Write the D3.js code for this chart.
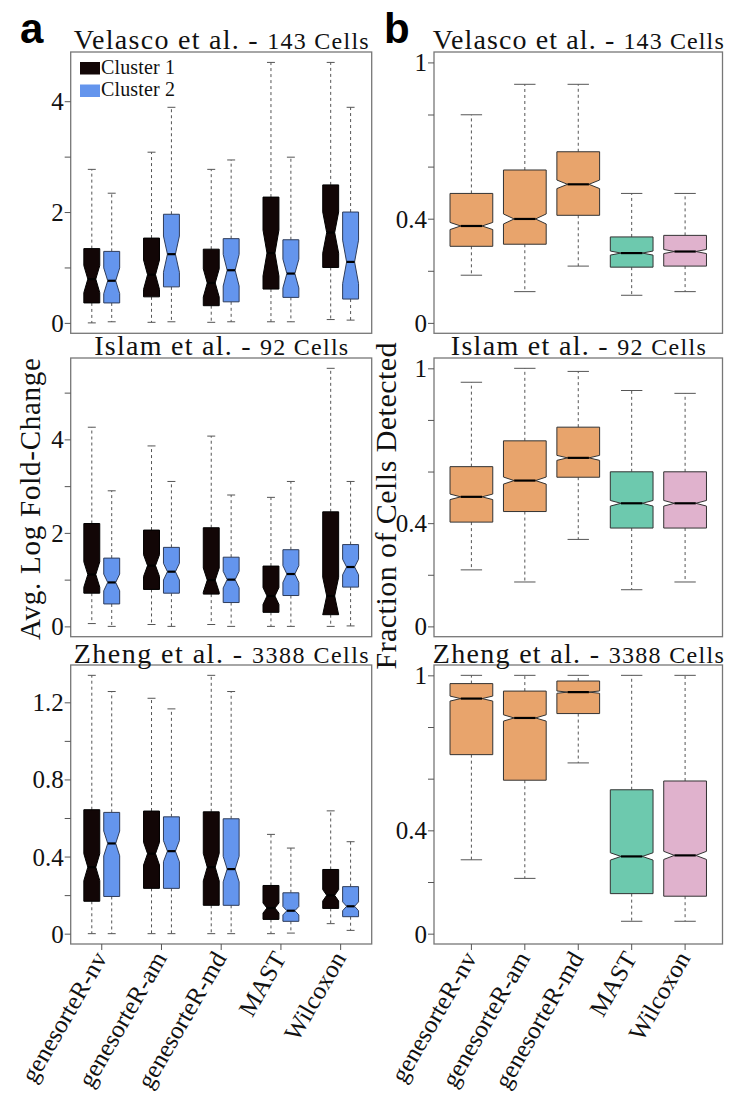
<!DOCTYPE html>
<html>
<head>
<meta charset="utf-8">
<script src="https://cdnjs.cloudflare.com/ajax/libs/d3/7.8.5/d3.min.js"></script>
<style>
  body { margin: 0; background: #fff; }
  svg { display: block; font-family: "Liberation Serif", "DejaVu Serif", serif; }
</style>
</head>
<body>
<svg id="fig" width="729" height="1099"></svg>
<script>
// ---- data: [lower whisker, Q1, median, Q3, upper whisker] ----
var methods = ["genesorteR-nv", "genesorteR-am", "genesorteR-md", "MAST", "Wilcoxon"];
var clusters = ["Cluster 1", "Cluster 2"];
var datasets = ["Velasco et al. -", "Islam et al. -", "Zheng et al. -"];
var cellCounts = ["143 Cells", "92 Cells", "3388 Cells"];

// panel a: avg log fold-change, boxes in order nv c1, nv c2, am c1, am c2, ...
var velascoFC = [
  [0.00, 0.36, 0.79, 1.34, 2.77], [0.02, 0.36, 0.76, 1.29, 2.34],
  [0.01, 0.47, 0.87, 1.53, 3.08], [0.02, 0.65, 1.24, 1.96, 3.89],
  [0.01, 0.31, 0.72, 1.33, 2.77], [0.02, 0.38, 0.95, 1.52, 2.94],
  [0.02, 0.61, 1.26, 2.27, 4.70], [0.02, 0.46, 0.89, 1.50, 2.99],
  [0.06, 1.00, 1.63, 2.49, 4.70], [0.05, 0.43, 1.10, 2.00, 3.89]
];
var islamFC = [
  [0.06, 0.71, 1.11, 2.20, 4.26], [0.00, 0.48, 0.94, 1.46, 2.90],
  [0.04, 0.79, 1.30, 2.06, 3.86], [0.00, 0.71, 1.17, 1.69, 3.10],
  [0.04, 0.69, 0.99, 2.11, 4.07], [0.00, 0.51, 1.00, 1.48, 2.81],
  [0.00, 0.30, 0.65, 1.29, 2.76], [0.00, 0.66, 1.12, 1.64, 3.10],
  [0.00, 0.25, 0.65, 2.45, 5.52], [0.01, 0.84, 1.27, 1.75, 3.10]
];
var zhengFC = [
  [0.00, 0.168, 0.345, 0.643, 1.34], [0.00, 0.193, 0.468, 0.629, 1.256],
  [0.00, 0.235, 0.415, 0.636, 1.221], [0.00, 0.235, 0.428, 0.606, 1.166],
  [0.00, 0.147, 0.345, 0.632, 1.34], [0.00, 0.147, 0.335, 0.596, 1.256],
  [0.00, 0.074, 0.133, 0.250, 0.515], [0.003, 0.064, 0.119, 0.212, 0.444],
  [0.052, 0.131, 0.199, 0.333, 0.637], [0.017, 0.088, 0.142, 0.244, 0.477]
];

// panel b: fraction of cells detected, one box per method
var velascoFrac = [
  [0.183, 0.294, 0.372, 0.497, 0.799], [0.120, 0.302, 0.399, 0.587, 0.916],
  [0.218, 0.413, 0.532, 0.657, 0.916], [0.106, 0.214, 0.268, 0.330, 0.497],
  [0.120, 0.218, 0.274, 0.336, 0.497]
];
var islamFrac = [
  [0.219, 0.404, 0.502, 0.619, 0.946], [0.172, 0.445, 0.565, 0.719, 1.000],
  [0.337, 0.578, 0.653, 0.772, 0.988], [0.142, 0.381, 0.477, 0.599, 0.914],
  [0.172, 0.381, 0.477, 0.599, 0.903]
];
var zhengFrac = [
  [0.286, 0.693, 0.910, 0.968, 1.000], [0.214, 0.594, 0.835, 0.939, 1.000],
  [0.661, 0.852, 0.935, 0.978, 1.000], [0.048, 0.155, 0.299, 0.557, 1.000],
  [0.048, 0.145, 0.303, 0.591, 1.000]
];

// approximate number of genes behind each panel (sets notch size, R formula)
var nLeft = [40, 75, 115];
var nRight = [550, 1000, 2000];

var fcTicks = [[0, 1, 2, 3, 4], [0, 1, 2, 3, 4, 5], [0, 0.2, 0.4, 0.6, 0.8, 1, 1.2]];
var fcLabels = [[0, 2, 4], [0, 2, 4], [0, 0.4, 0.8, 1.2]];
var fracTicks = [0, 0.2, 0.4, 0.6, 0.8, 1];
var fracLabels = [0, 0.4, 1];

var clusterColors = ["#120606", "#6495ed"];
var clusterStroke = ["#000000", "#2e3c5a"];
var methodColors = ["#e8a46c", "#e8a46c", "#e8a46c", "#6dc9ae", "#e0b2cd"];

// ---- layout ----
var svg = d3.select("#fig");
var leftX = [70.7, 371.7],
    rightX = [434, 722.5],
    rowsY = [[52, 333.3], [358, 636.7], [665, 944]];
var titleBase = [49, 355, 663];
var titleLenL = [295, 254, 295],
    titleLenR = [291, 255, 291];

function notchBox(g, xs, y, pos, halfW, d, n, fill, stroke) {
  var lo = d[0], q1 = d[1], med = d[2], q3 = d[3], hi = d[4];
  var nd = 1.58 * (q3 - q1) / Math.sqrt(n);
  var cx = xs(pos), w = xs(pos + halfW) - cx, cap = w * 0.5;

  var wh = g.append("g").attr("stroke", "#555").attr("stroke-width", 1);
  wh.append("line").attr("x1", cx).attr("x2", cx).attr("y1", y(q3)).attr("y2", y(hi))
    .attr("stroke-dasharray", "3,3");
  wh.append("line").attr("x1", cx).attr("x2", cx).attr("y1", y(q1)).attr("y2", y(lo))
    .attr("stroke-dasharray", "3,3");
  wh.append("line").attr("x1", cx - cap).attr("x2", cx + cap).attr("y1", y(hi)).attr("y2", y(hi));
  wh.append("line").attr("x1", cx - cap).attr("x2", cx + cap).attr("y1", y(lo)).attr("y2", y(lo));

  var pts = [
    [cx - w, y(q1)], [cx - w, y(med - nd)], [cx - w / 2, y(med)], [cx - w, y(med + nd)],
    [cx - w, y(q3)], [cx + w, y(q3)], [cx + w, y(med + nd)], [cx + w / 2, y(med)],
    [cx + w, y(med - nd)], [cx + w, y(q1)]
  ];
  g.append("polygon")
    .attr("points", pts.map(function(p) { return p.join(","); }).join(" "))
    .attr("fill", fill)
    .attr("stroke", stroke)
    .attr("stroke-width", 1);
  g.append("line")
    .attr("x1", cx - w / 2).attr("x2", cx + w / 2)
    .attr("y1", y(med)).attr("y2", y(med))
    .attr("stroke", "#000").attr("stroke-width", 2.2);
}

function yAxis(g, y, x0, ticks, labels) {
  g.append("g")
    .attr("transform", "translate(" + x0 + ",0)")
    .call(d3.axisLeft(y).tickValues(ticks).tickSize(6).tickPadding(1)
      .tickFormat(function(d) { return labels.indexOf(d) >= 0 ? String(d) : ""; }))
    .call(function(a) {
      a.select(".domain").remove();
      a.selectAll("line").attr("stroke", "#555");
      a.selectAll("text")
        .style("font-family", "'Liberation Serif', serif")
        .style("font-size", "25px")
        .attr("fill", "#111").attr("dy", "0.34em");
    });
}

function title(g, cx, base, i, len) {
  var t = g.append("text")
    .attr("x", cx).attr("y", base)
    .attr("text-anchor", "middle")
    .attr("fill", "#111")
    .attr("textLength", len)
    .attr("lengthAdjust", "spacing");
  t.append("tspan").attr("font-size", 28).text(datasets[i] + " ");
  t.append("tspan").attr("font-size", 24).text(cellCounts[i]);
}

function border(g, xr, yr) {
  g.append("rect")
    .attr("x", xr[0]).attr("y", yr[0])
    .attr("width", xr[1] - xr[0]).attr("height", yr[1] - yr[0])
    .attr("fill", "none").attr("stroke", "#777").attr("stroke-width", 1.3);
}

var fcData = [velascoFC, islamFC, zhengFC];
var fracData = [velascoFrac, islamFrac, zhengFrac];
var leftPos = [1, 2, 4, 5, 7, 8, 10, 11, 13, 14];
var leftGroupPos = [1.5, 4.5, 7.5, 10.5, 13.5];
var rightPos = [1, 2, 3, 4, 5];

var xl = d3.scaleLinear().domain([-0.06, 15.06]).range(leftX);
var xr = d3.scaleLinear().domain([0.3, 5.7]).range(rightX);

rowsY.forEach(function(yr, r) {
  // ---- left: fold change per cluster ----
  var data = fcData[r];
  var lo = d3.min(data, function(d) { return d[0]; }),
      hi = d3.max(data, function(d) { return d[4]; });
  var pad = (hi - lo) * 0.04;
  var y = d3.scaleLinear().domain([lo - pad, hi + pad]).range([yr[1], yr[0]]);
  var gl = svg.append("g").attr("class", "left-" + r);
  data.forEach(function(d, i) {
    var c = i % 2;
    notchBox(gl, xl, y, leftPos[i], 0.4, d, nLeft[r], clusterColors[c], clusterStroke[c]);
  });
  border(gl, leftX, yr);
  yAxis(gl, y, leftX[0], fcTicks[r], fcLabels[r]);
  title(gl, (leftX[0] + leftX[1]) / 2, titleBase[r], r, titleLenL[r]);

  // ---- right: fraction of cells detected per method ----
  var yf = d3.scaleLinear().domain([-0.04, 1.04]).range([yr[1], yr[0]]);
  var gr = svg.append("g").attr("class", "right-" + r);
  fracData[r].forEach(function(d, i) {
    notchBox(gr, xr, yf, rightPos[i], 0.4, d, nRight[r], methodColors[i], "#333");
  });
  border(gr, rightX, yr);
  yAxis(gr, yf, rightX[0], fracTicks, fracLabels);
  title(gr, (rightX[0] + rightX[1]) / 2, titleBase[r], r, titleLenR[r]);
});

// ---- bottom x axes with rotated method names ----
function xAxis(xs, pos) {
  var base = rowsY[2][1];
  var g = svg.append("g");
  pos.forEach(function(p, i) {
    var x = xs(p);
    g.append("line").attr("x1", x).attr("x2", x).attr("y1", base).attr("y2", base + 6)
      .attr("stroke", "#555");
    g.append("text")
      .attr("transform", "translate(" + (x + 6) + "," + (base + 14) + ") rotate(-60)")
      .attr("text-anchor", "end")
      .attr("font-size", 25)
      .attr("fill", "#111")
      .text(methods[i]);
  });
}
xAxis(xl, leftGroupPos);
xAxis(xr, rightPos);

// ---- legend (panel a, top) ----
var lg = svg.append("g");
clusters.forEach(function(c, i) {
  lg.append("rect").attr("x", 80).attr("y", 62 + i * 22.5).attr("width", 20).attr("height", 12.5)
    .attr("fill", clusterColors[i]);
  lg.append("text").attr("x", 101).attr("y", 73.5 + i * 22.5)
    .attr("font-size", 20).attr("fill", "#111")
    .attr("textLength", 74).attr("lengthAdjust", "spacing")
    .text(c);
});

// ---- axis titles ----
svg.append("text")
  .attr("transform", "translate(40,499) rotate(-90)")
  .attr("text-anchor", "middle").attr("font-size", 29).attr("fill", "#111")
  .attr("textLength", 282).attr("lengthAdjust", "spacing")
  .text("Avg. Log Fold-Change");
svg.append("text")
  .attr("transform", "translate(396,506) rotate(-90)")
  .attr("text-anchor", "middle").attr("font-size", 30).attr("fill", "#111")
  .attr("textLength", 327).attr("lengthAdjust", "spacing")
  .text("Fraction of Cells Detected");

// ---- panel letters ----
svg.append("text").attr("x", 20).attr("y", 43)
  .attr("font-family", "Liberation Sans").attr("font-weight", "bold").attr("font-size", 42)
  .text("a");
svg.append("text").attr("x", 384).attr("y", 43)
  .attr("font-family", "Liberation Sans").attr("font-weight", "bold").attr("font-size", 42)
  .text("b");
</script>
</body>
</html>
